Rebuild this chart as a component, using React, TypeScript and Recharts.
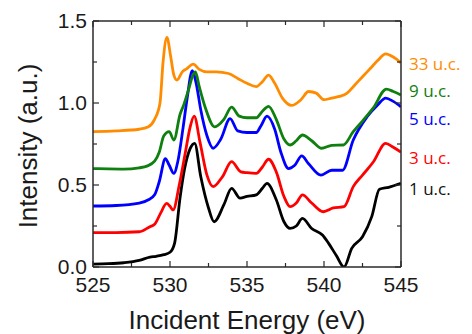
import * as React from "react";
import { LineChart, Line, XAxis, YAxis } from "recharts";

// O K-edge style spectra, offset per thickness
const energy33 = [525, 526.5, 528, 528.6, 529.0, 529.35, 529.55, 529.8, 530.05, 530.25, 530.45, 530.8, 531.1, 531.5, 531.9, 532.4, 533, 533.8, 534.4, 535, 535.6, 536, 536.4, 536.8, 537.3, 537.9, 538.5, 539.0, 539.5, 540, 540.5, 541, 541.5, 542, 542.5, 543, 543.5, 544, 544.5, 545];
const int33 = [0.825, 0.83, 0.84, 0.855, 0.9, 1.0, 1.25, 1.4, 1.28, 1.17, 1.14, 1.19, 1.21, 1.237, 1.205, 1.19, 1.19, 1.18, 1.15, 1.12, 1.1, 1.13, 1.17, 1.12, 1.03, 0.985, 1.02, 1.07, 1.06, 1.02, 1.03, 1.04, 1.06, 1.11, 1.16, 1.21, 1.26, 1.3, 1.28, 1.245];

const energy9 = [525, 526, 527, 528, 528.5, 529.0, 529.3, 529.6, 529.95, 530.25, 530.65, 530.9, 531.2, 531.45, 531.65, 531.9, 532.3, 532.9, 533.5, 534.0, 534.5, 535.0, 535.6, 536.0, 536.4, 536.9, 537.4, 537.8, 538.2, 538.6, 539.2, 539.85, 540.5, 541.25, 541.9, 542.5, 543.2, 544.05, 544.5, 545];
const int9 = [0.6, 0.598, 0.597, 0.605, 0.615, 0.645, 0.7, 0.8, 0.825, 0.774, 0.93, 0.99, 1.08, 1.16, 1.19, 1.1, 0.97, 0.855, 0.9, 0.975, 0.92, 0.91, 0.91, 0.95, 0.98, 0.9, 0.78, 0.744, 0.77, 0.805, 0.77, 0.724, 0.742, 0.744, 0.825, 0.89, 0.97, 1.085, 1.07, 1.049];

const energy5 = [525, 526.5, 528, 528.6, 529.0, 529.3, 529.7, 529.95, 530.25, 530.5, 530.85, 531.1, 531.45, 531.7, 532.0, 532.4, 532.8, 533.3, 533.9, 534.4, 535.0, 535.6, 535.9, 536.3, 536.8, 537.2, 537.7, 538.1, 538.55, 539.0, 539.8, 540.5, 541.2, 541.9, 542.8, 543.5, 544.0, 544.5, 545];
const int5 = [0.372, 0.375, 0.39, 0.41, 0.44, 0.52, 0.66, 0.62, 0.571, 0.64, 0.85, 1.02, 1.197, 1.12, 0.957, 0.8, 0.724, 0.78, 0.905, 0.83, 0.82, 0.82, 0.86, 0.92, 0.84, 0.7, 0.6, 0.62, 0.677, 0.63, 0.56, 0.59, 0.59, 0.774, 0.916, 0.99, 1.03, 1.01, 0.977];

const energy3 = [525, 526.5, 528, 528.7, 529.0, 529.4, 529.78, 530.0, 530.2, 530.6, 531.0, 531.3, 531.57, 531.95, 532.4, 532.8, 533.4, 534.0, 534.6, 535.0, 535.6, 536.0, 536.4, 536.9, 537.4, 537.8, 538.2, 538.6, 539.2, 539.95, 540.6, 541.3, 541.9, 542.5, 543.2, 544.0, 544.5, 545];
const int3 = [0.21, 0.21, 0.215, 0.246, 0.26, 0.33, 0.388, 0.37, 0.348, 0.5, 0.7, 0.85, 0.92, 0.76, 0.56, 0.49, 0.55, 0.642, 0.58, 0.575, 0.571, 0.61, 0.657, 0.58, 0.43, 0.368, 0.39, 0.44, 0.39, 0.337, 0.36, 0.368, 0.49, 0.56, 0.64, 0.754, 0.73, 0.7];

const energy1 = [525, 526, 527, 528, 528.7, 529.1, 529.6, 530.0, 530.3, 530.65, 530.95, 531.3, 531.6, 532.0, 532.5, 532.86, 533.5, 534.0, 534.55, 535.0, 535.6, 536.0, 536.3, 536.9, 537.4, 537.8, 538.2, 538.6, 539.2, 539.9, 540.3, 540.8, 541.3, 541.8, 542.5, 543.1, 543.6, 544.2, 545];
const int1 = [0.018, 0.02, 0.026, 0.04, 0.06, 0.065, 0.075, 0.09, 0.146, 0.42, 0.6, 0.72, 0.754, 0.55, 0.36, 0.276, 0.38, 0.48, 0.42, 0.43, 0.44, 0.48, 0.51, 0.41, 0.276, 0.235, 0.25, 0.296, 0.235, 0.195, 0.144, 0.07, 0.0, 0.114, 0.185, 0.307, 0.474, 0.486, 0.51];

const xTicks = [525, 527.5, 530, 532.5, 535, 537.5, 540, 542.5, 545];
const yTicks = [0, 0.25, 0.5, 0.75, 1, 1.25, 1.5];

const series = [
  { name: "1 u.c.", energy: energy1, intensity: int1, color: "#000000" },
  { name: "3 u.c.", energy: energy3, intensity: int3, color: "#ff0000" },
  { name: "5 u.c.", energy: energy5, intensity: int5, color: "#0000ff" },
  { name: "9 u.c.", energy: energy9, intensity: int9, color: "#0f7f0f" },
  { name: "33 u.c.", energy: energy33, intensity: int33, color: "#ff8c00" },
];

// where the right-hand captions sit (page px)
const captions = [
  { name: "33 u.c.", color: "#ff8c00", top: 63 },
  { name: "9 u.c.", color: "#0f7f0f", top: 90 },
  { name: "5 u.c.", color: "#0000ff", top: 118 },
  { name: "3 u.c.", color: "#ff0000", top: 157 },
  { name: "1 u.c.", color: "#111111", top: 188 },
];

const frame = "#2a2a2a";
const tickFont = "'Liberation Sans', Arial, sans-serif";

const BottomTick = (props: any) => {
  const { x, y, payload } = props;
  const major = payload.value % 5 === 0;
  return (
    <g>
      <line x1={x} x2={x} y1={y} y2={y - (major ? 6 : 4)} stroke={frame} strokeWidth={1.2} />
      {major && (
        <text x={x} y={y + 17} textAnchor="middle" dominantBaseline="central" fontSize={21} fontFamily={tickFont} fill="#1a1a1a">
          {payload.value}
        </text>
      )}
    </g>
  );
};

const TopTick = (props: any) => {
  const { x, y, payload } = props;
  const major = payload.value % 5 === 0;
  return <line x1={x} x2={x} y1={y} y2={y + (major ? 6 : 4)} stroke={frame} strokeWidth={1.2} />;
};

const LeftTick = (props: any) => {
  const { x, y, payload } = props;
  const major = (payload.value * 2) % 1 === 0;
  return (
    <g>
      <line x1={x} x2={x + (major ? 6 : 4)} y1={y} y2={y} stroke={frame} strokeWidth={1.2} />
      {major && (
        <text x={x - 6} y={y - 1} textAnchor="end" dominantBaseline="central" fontSize={21} fontFamily={tickFont} fill="#1a1a1a">
          {payload.value.toFixed(1)}
        </text>
      )}
    </g>
  );
};

const RightTick = (props: any) => {
  const { x, y, payload } = props;
  const major = (payload.value * 2) % 1 === 0;
  return <line x1={x} x2={x - (major ? 6 : 4)} y1={y} y2={y} stroke={frame} strokeWidth={1.2} />;
};

export default function App() {
  return (
    <div style={{ position: "absolute", left: 0, top: 0, width: 472, height: 334, background: "#fff" }}>
      <LineChart width={472} height={334} margin={{ top: 20, right: 70, bottom: 37, left: 53 }}>
        <XAxis
          xAxisId="bottom"
          dataKey="x"
          type="number"
          domain={[525, 545]}
          ticks={xTicks}
          interval={0}
          height={30}
          tickSize={0}
          tickMargin={0}
          tickLine={false}
          tick={BottomTick}
          axisLine={{ stroke: frame, strokeWidth: 1.5 }}
          allowDataOverflow
        />
        <XAxis
          xAxisId="top"
          orientation="top"
          dataKey="x"
          type="number"
          domain={[525, 545]}
          ticks={xTicks}
          interval={0}
          height={1}
          tickSize={0}
          tickMargin={0}
          tickLine={false}
          tick={TopTick}
          axisLine={{ stroke: frame, strokeWidth: 1.5 }}
          allowDataOverflow
        />
        <YAxis
          yAxisId="left"
          type="number"
          domain={[0, 1.5]}
          ticks={yTicks}
          interval={0}
          width={40}
          tickSize={0}
          tickMargin={0}
          tickLine={false}
          tick={LeftTick}
          axisLine={{ stroke: frame, strokeWidth: 1.5 }}
          allowDataOverflow
        />
        <YAxis
          yAxisId="right"
          orientation="right"
          type="number"
          domain={[0, 1.5]}
          ticks={yTicks}
          interval={0}
          width={1}
          tickSize={0}
          tickMargin={0}
          tickLine={false}
          tick={RightTick}
          axisLine={{ stroke: frame, strokeWidth: 1.5 }}
          allowDataOverflow
        />
        {series.map((s) => (
          <Line
            key={s.name}
            xAxisId="bottom"
            yAxisId="left"
            data={s.energy.map((e, i) => ({ x: e, y: s.intensity[i] }))}
            dataKey="y"
            type="monotone"
            stroke={s.color}
            strokeWidth={2.8}
            dot={false}
            activeDot={false}
            isAnimationActive={false}
          />
        ))}
      </LineChart>
      <div
        style={{
          position: "absolute",
          left: 247,
          top: 320,
          transform: "translate(-50%, -50%)",
          whiteSpace: "nowrap",
          fontFamily: tickFont,
          fontSize: 26,
          lineHeight: 1,
          color: "#1a1a1a",
        }}
      >
        Incident Energy (eV)
      </div>
      <div
        style={{
          position: "absolute",
          left: 28,
          top: 146,
          transform: "translate(-50%, -50%) rotate(-90deg)",
          whiteSpace: "nowrap",
          fontFamily: tickFont,
          fontSize: 26,
          lineHeight: 1,
          color: "#1a1a1a",
        }}
      >
        Intensity (a.u.)
      </div>
      {captions.map((c) => (
        <div
          key={c.name}
          style={{
            position: "absolute",
            left: 409,
            top: c.top,
            transform: "translateY(-50%)",
            whiteSpace: "nowrap",
            fontFamily: "'Open Sans', 'Noto Sans', sans-serif",
            fontSize: 17,
            lineHeight: 1,
            color: c.color,
          }}
        >
          {c.name}
        </div>
      ))}
    </div>
  );
}
